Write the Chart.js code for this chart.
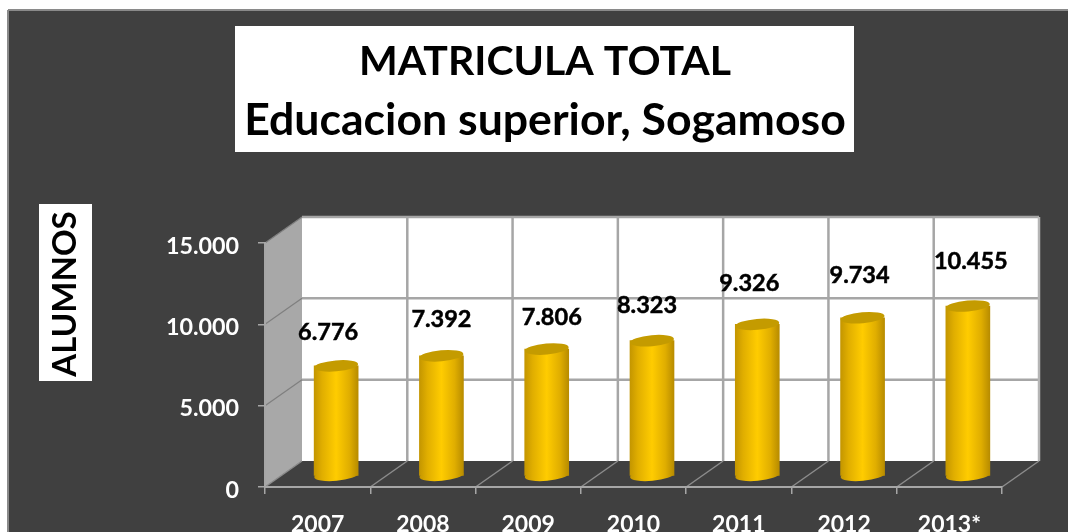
<!DOCTYPE html>
<html>
<head>
<meta charset="utf-8">
<style>html,body{margin:0;padding:0;background:#fff;overflow:hidden}canvas{display:block;filter:blur(0.45px)}</style>
<script src="https://cdn.jsdelivr.net/npm/chart.js@4/dist/chart.umd.js"></script>
</head>
<body>
<canvas id="c" width="1068" height="532"></canvas>
<script>
const categories = ['2007','2008','2009','2010','2011','2012','2013*'];
const alumnos = [6776,7392,7806,8323,9326,9734,10455];
const titleLine = 'MATRICULA TOTAL';
const subtitleLine = 'Educacion superior, Sogamoso';
const axisTitle = 'ALUMNOS';
const labelNudgeX = [-8,0,5,-5,-8,-3,3];
const labelNudgeY = [-33,-36,-32,-35,-41,-42,-45];

const FONT = 'Lato, "Open Sans", sans-serif';
const DX = 37, DY = -26;
const fmt = v => String(v).replace(/\B(?=(\d{3})+$)/g,'.');

function poly(ctx, pts, fill){
  ctx.beginPath();
  pts.forEach((p,i)=> i?ctx.lineTo(p[0],p[1]):ctx.moveTo(p[0],p[1]));
  ctx.closePath();
  ctx.fillStyle = fill; ctx.fill();
}
function seg(ctx,x1,y1,x2,y2,color,w){
  ctx.beginPath(); ctx.moveTo(x1,y1); ctx.lineTo(x2,y2);
  ctx.strokeStyle=color; ctx.lineWidth=w; ctx.stroke();
}
function cylinderFill(ctx,cx){
  const g=ctx.createLinearGradient(cx-22,0,cx+22,0);
  g.addColorStop(0,'#c49600');
  g.addColorStop(0.18,'#e0ae00');
  g.addColorStop(0.5,'#ffcc00');
  g.addColorStop(0.8,'#e0ae00');
  g.addColorStop(1,'#b88c00');
  return g;
}
const scene = {
  id:'scene',
  afterLayout(chart){ // centre the heading on its white panel
    chart.boxes.forEach(b=>{ if(b.fullSize && b.position==='top'){ b.left=22; b.right=1068; } });
  },
  beforeDraw(chart){
    const {ctx, chartArea:a, scales:{x,y}} = chart;
    ctx.save();
    ctx.fillStyle='#fff'; ctx.fillRect(0,0,1068,532);
    ctx.fillStyle='#404040'; ctx.fillRect(8,10,1060,522);
    seg(ctx,8,10,1068,10,'#8a8a8a',2);
    seg(ctx,8,10,8,532,'#8a8a8a',2);
    ctx.fillStyle='#fff';
    ctx.fillRect(235,26,619,126);
    ctx.fillRect(39,204,53,177);
    const L=a.left,R=a.right,T=a.top,B=a.bottom;
    poly(ctx,[[L,T],[L+DX,T+DY],[L+DX,B+DY],[L,B]],'#a8a8a8');
    poly(ctx,[[L+DX,T+DY],[R+DX,T+DY],[R+DX,B+DY],[L+DX,B+DY]],'#ffffff');
    poly(ctx,[[L,B],[L+DX,B+DY],[R+DX,B+DY],[R,B]],'#404040');
    y.ticks.forEach(t=>{
      const p=y.getPixelForValue(t.value);
      if(t.value>0) seg(ctx,L+DX,p+DY,R+DX,p+DY,'#a6a6a6',2.5);
      if(t.value>0) seg(ctx,L,p,L+DX,p+DY,'#7f7f7f',1.2);
    });
    for(let i=0;i<=categories.length;i++){
      const xp = i<categories.length ? x.getPixelForTick(i)-x.width/categories.length/2 : R;
      if(i>0) seg(ctx,xp+DX,T+DY,xp+DX,B+DY,i===categories.length?'#b5b5b5':'#a6a6a6',2.5);
      seg(ctx,xp,B,xp+DX,B+DY,'#8c8c8c',1.5);
    }
    ctx.restore();
  },
  beforeDatasetsDraw(chart){
    const ctx=chart.ctx, meta=chart.getDatasetMeta(0);
    ctx.save();
    ctx.translate(DX/2,DY*0.42);
    meta.data.forEach(b=>{
      ctx.beginPath();
      ctx.ellipse(b.x,b.base,22,5.5,-5*Math.PI/180,0,Math.PI*2);
      ctx.fillStyle=cylinderFill(ctx,b.x); ctx.fill();
    });
  },
  afterDatasetsDraw(chart){
    const ctx=chart.ctx, meta=chart.getDatasetMeta(0);
    meta.data.forEach(b=>{
      ctx.beginPath();
      ctx.ellipse(b.x,b.y,22,5.5,-5*Math.PI/180,0,Math.PI*2);
      ctx.fillStyle='#c49b00'; ctx.fill();
    });
    ctx.restore();
    ctx.save();
    ctx.fillStyle='#000';
    ctx.strokeStyle='#000';
    ctx.lineWidth=0.5;
    ctx.font='bold 23.5px '+FONT;
    ctx.textAlign='center'; ctx.textBaseline='middle';
    meta.data.forEach((b,i)=>{
      const tx=b.x+DX/2+labelNudgeX[i], ty=b.y+DY*0.42+labelNudgeY[i];
      ctx.fillText(fmt(alumnos[i]),tx,ty);
      ctx.strokeText(fmt(alumnos[i]),tx,ty);
    });
    ctx.restore();
  },
  afterDraw(chart){
    const ctx=chart.ctx;
    ctx.save();
    ctx.translate(65,294); ctx.rotate(-Math.PI/2);
    ctx.fillStyle='#000'; ctx.font='bold 33px '+FONT;
    ctx.textAlign='center'; ctx.textBaseline='middle';
    ctx.fillText(axisTitle,0,0);
    ctx.restore();
  }
};

new Chart(document.getElementById('c'),{
  type:'bar',
  plugins:[scene],
  data:{labels:categories,datasets:[{
    data:alumnos,
    barThickness:44,
    borderWidth:0,
    clip:false,
    backgroundColor(c){
      const sx=c.chart.scales.x;
      if(!sx) return '#ffc000';
      return cylinderFill(c.chart.ctx,sx.getPixelForTick(c.dataIndex));
    }
  }]},
  options:{
    responsive:false,
    animation:false,
    events:[],
    layout:{padding:{top:0,right:66,bottom:0,left:0}},
    plugins:{
      legend:{display:false},
      tooltip:{enabled:false},
      title:{display:true,text:titleLine,color:'#000',
        font:{family:FONT,weight:'bold',size:41,lineHeight:59/41},
        padding:{top:32,bottom:0}},
      subtitle:{display:true,text:subtitleLine,color:'#000',
        font:{family:FONT,weight:'bold',size:44.6,lineHeight:59/44.6},
        padding:{top:0,bottom:93}}
    },
    scales:{
      x:{
        offset:true,
        grid:{offset:true,display:true,drawOnChartArea:false,drawTicks:true,tickLength:7,color:'#a6a6a6',lineWidth:1.5},
        border:{color:'#a6a6a6',width:2},
        ticks:{color:'#fff',font:{family:FONT,weight:'bold',size:23},padding:17,maxRotation:0,autoSkip:false},
        afterFit(s){s.height=45;}
      },
      y:{
        min:0,max:15000,
        grid:{display:true,drawOnChartArea:false,drawTicks:true,tickLength:7,color:'#a6a6a6',lineWidth:1.5},
        border:{color:'#a6a6a6',width:2},
        ticks:{stepSize:5000,color:'#fff',font:{family:FONT,weight:'bold',size:23.3},padding:19,labelOffset:3,callback:v=>fmt(v)},
        afterFit(s){s.width=265;}
      }
    }
  }
});
</script>
</body>
</html>
